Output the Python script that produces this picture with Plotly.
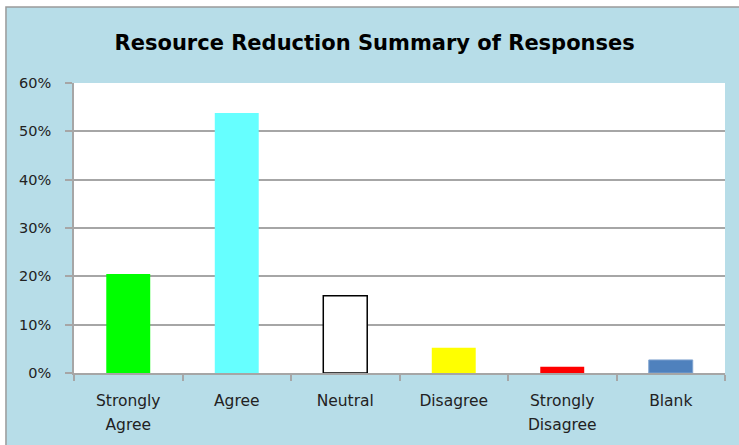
import plotly.graph_objects as go

categories = ["Strongly Agree", "Agree", "Neutral", "Disagree", "Strongly Disagree", "Blank"]
tick_text = ["Strongly<br>Agree", "Agree", "Neutral", "Disagree", "Strongly<br>Disagree", "Blank"]
shares = [0.205, 0.538, 0.160, 0.052, 0.013, 0.027]
bar_colors = ["#00FF00", "#66FFFF", "#FFFFFF", "#FFFF00", "#FF0000", "#4F81BD"]
edge_colors = ["rgba(0,0,0,0)", "rgba(0,0,0,0)", "#000000", "rgba(0,0,0,0)", "rgba(0,0,0,0)", "#7FA3CF"]
edge_widths = [0, 0, 1.5, 0, 0, 1]

panel_blue = "#B7DDE8"
grid_gray = "#A6A6A6"
font_family = "DejaVu Sans, Verdana, sans-serif"


def label_html(text):
    # smaller glyphs inside a taller line box gives the wider line spacing
    return "<br>".join(f"<span style='font-size:15.5px'>{part}</span>" for part in text.split("<br>"))


fig = go.Figure(
    go.Bar(
        x=categories,
        y=shares,
        marker=dict(color=bar_colors, line=dict(color=edge_colors, width=edge_widths)),
        hoverinfo="skip",
    )
)

# light-blue chart panel with grey frame, then white plotting area on top of it
fig.add_shape(type="rect", xref="paper", yref="paper",
              x0=-0.1045, x1=1.05, y0=-0.30, y1=1.262,
              fillcolor=panel_blue, line=dict(color="#9a9a9a", width=1.5), layer="below")
fig.add_shape(type="rect", xref="paper", yref="paper",
              x0=0, x1=1, y0=0, y1=1,
              fillcolor="white", line=dict(width=0), layer="below")

fig.update_layout(
    width=739, height=445,
    margin=dict(l=74, r=14, t=83, b=72),
    paper_bgcolor="white",
    plot_bgcolor="white",
    showlegend=False,
    bargap=0.595,
    title=dict(text="<b>Resource Reduction Summary of Responses</b>",
               x=0.507, xanchor="center", y=0.905, yanchor="middle",
               font=dict(family=font_family, size=21, color="#000000")),
)

fig.update_yaxes(
    range=[0, 0.6], dtick=0.1, tickformat=".0%",
    showgrid=True, gridcolor=grid_gray, gridwidth=1.5,
    showline=True, linecolor=grid_gray, linewidth=1.5,
    ticks="outside", ticklen=7, tickcolor=grid_gray, tickwidth=1.5,
    ticklabelstandoff=11,
    tickfont=dict(family=font_family, size=14.5, color="#222222"), zeroline=False,
)
fig.update_xaxes(
    tickmode="array", tickvals=categories, ticktext=[label_html(t) for t in tick_text],
    showline=True, linecolor=grid_gray, linewidth=1.5,
    ticks="outside", tickson="boundaries", ticklen=6, tickcolor=grid_gray, tickwidth=1.5,
    ticklabelstandoff=8,
    tickfont=dict(family=font_family, size=19, color="#222222"), showgrid=False,
)

fig.write_html("out.html")
